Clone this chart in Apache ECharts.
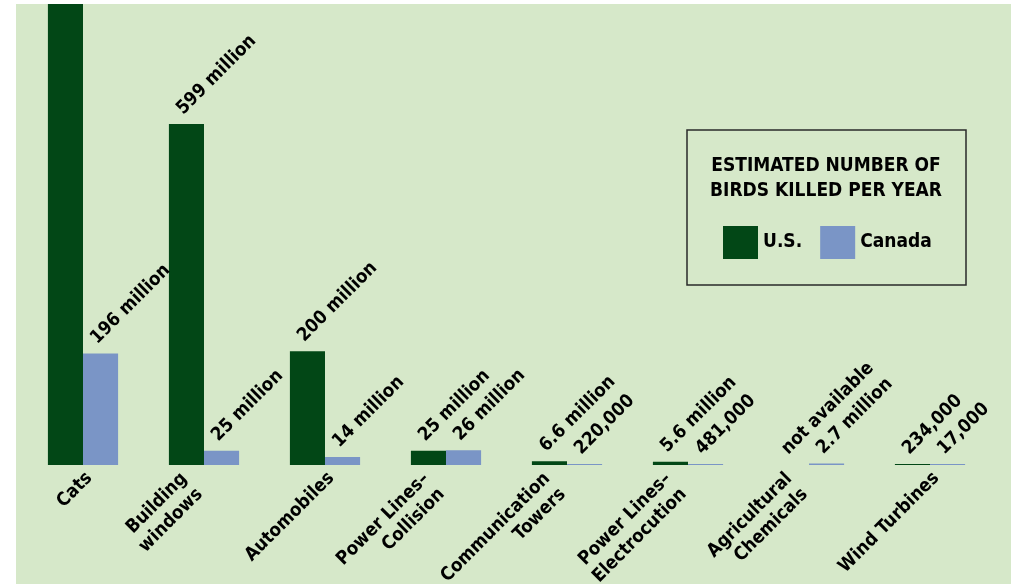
<!DOCTYPE html>
<html>
<head>
<meta charset="utf-8">
<script src="https://cdn.jsdelivr.net/npm/echarts@6/dist/echarts.min.js"></script>
<style>
html,body{margin:0;padding:0;background:#fff;}
#chart{width:1011px;height:584px;}
</style>
</head>
<body>
<div id="chart"></div>
<script>
// Categories
var categories = ['Cats', 'Building\nwindows', 'Automobiles', 'Power Lines–\nCollision', 'Communication\nTowers', 'Power Lines–\nElectrocution', 'Agricultural\nChemicals', 'Wind Turbines'];
// Birds killed per year, in millions (U.S. cats bar runs off the chart; agricultural U.S. not available)
var usValues = [2400, 599, 200, 25, 6.6, 5.6, 0, 0.234];
var caValues = [196, 25, 14, 26, 0.22, 0.481, 2.7, 0.017];
// Value labels
var usLabels = ['', '599 million', '200 million', '25 million', '6.6 million', '5.6 million', 'not available', '234,000'];
var caLabels = ['196 million', '25 million', '14 million', '26 million', '220,000', '481,000', '2.7 million', '17,000'];
var seriesNames = ['U.S.', 'Canada'];
var legendTitle = 'ESTIMATED NUMBER OF\nBIRDS KILLED PER YEAR';

var FONT = "'DejaVu Sans Condensed', 'DejaVu Sans', sans-serif";
var US_COLOR = '#024716';
var CA_COLOR = '#7a95c6';
var BG = '#d6e8c9';

function buildData(values, labels, missingIdx) {
  return values.map(function (v, i) {
    var item = { value: v, labelText: labels[i] };
    if (missingIdx.indexOf(i) >= 0) {
      item.itemStyle = { color: 'rgba(0,0,0,0)' };
    }
    if (!labels[i]) item.label = { show: false };
    return item;
  });
}

var valueLabel = {
  show: true,
  position: 'top',
  rotate: 45,
  align: 'left',
  verticalAlign: 'middle',
  distance: 5,
  offset: [0.5, -10],
  fontFamily: FONT,
  fontWeight: 'bold',
  fontSize: 18.5,
  color: '#000',
  formatter: function (p) { return p.data.labelText; }
};

var chart = echarts.init(document.getElementById('chart'), null, { renderer: 'canvas' });
chart.setOption({
  backgroundColor: BG,
  animation: false,
  grid: { left: 22.5, right: 20.5, top: 4, bottom: 119, containLabel: false, outerBoundsMode: 'none' },
  xAxis: {
    type: 'category',
    data: categories,
    axisLine: { show: false },
    axisTick: { show: false },
    axisLabel: {
      interval: 0,
      rotate: 45,
      margin: 11,
      color: '#000',
      formatter: function (v) {
        return v.indexOf('\n') >= 0 ? '{m|' + v + '}' : '{s|' + v + '}';
      },
      rich: {
        s: { fontFamily: FONT, fontWeight: 'bold', fontSize: 18.5, lineHeight: 22, color: '#000', padding: [8, -5, 0, 0] },
        m: { fontFamily: FONT, fontWeight: 'bold', fontSize: 18.5, lineHeight: 22, color: '#000', padding: [0, 14, 6, 0] }
      }
    }
  },
  yAxis: {
    type: 'value',
    min: 0,
    max: 810,
    show: false,
    splitLine: { show: false }
  },
  legend: {
    data: seriesNames,
    left: 723,
    top: 226,
    padding: 0,
    itemWidth: 35,
    itemHeight: 33,
    itemGap: 18,
    icon: 'rect',
    textStyle: { fontFamily: FONT, fontWeight: 'bold', fontSize: 19, color: '#000' }
  },
  graphic: [
    { type: 'rect', shape: { x: 0, y: 0, width: 16, height: 584 }, style: { fill: '#fff' }, silent: true },
    { type: 'rect', shape: { x: 0, y: 0, width: 1011, height: 4 }, style: { fill: '#fff' }, silent: true },
    { type: 'rect', shape: { x: 687, y: 130, width: 279, height: 155 }, style: { fill: 'none', stroke: '#2a2a2a', lineWidth: 1.5 }, silent: true },
    { type: 'text', x: 826, y: 179, style: { text: legendTitle, fontFamily: FONT, fontWeight: 'bold', fontSize: 19, lineHeight: 25, fill: '#000', align: 'center', verticalAlign: 'middle' }, silent: true }
  ],
  series: [
    {
      name: seriesNames[0],
      type: 'bar',
      data: buildData(usValues, usLabels, [6]),
      itemStyle: { color: US_COLOR },
      barGap: '0%',
      barCategoryGap: '42%',
      barMinHeight: 1,
      clip: true,
      label: valueLabel
    },
    {
      name: seriesNames[1],
      type: 'bar',
      data: buildData(caValues, caLabels, []),
      itemStyle: { color: CA_COLOR },
      barGap: '0%',
      barCategoryGap: '42%',
      barMinHeight: 1,
      clip: true,
      label: valueLabel
    }
  ]
});
</script>
</body>
</html>
